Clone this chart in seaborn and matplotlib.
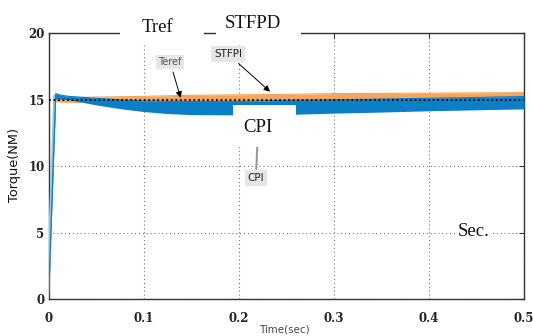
import matplotlib
matplotlib.use("Agg")
import matplotlib.pyplot as plt
import seaborn as sns
import numpy as np
import pandas as pd
from matplotlib.patches import Rectangle
from matplotlib.transforms import IdentityTransform

# ---- data ----
ref_t = [0.0, 0.5]
ref_v = [15.0, 15.0]

orange_t = [0.0, 0.0075, 0.012, 0.03, 0.05, 0.1, 0.14, 0.2, 0.26, 0.3, 0.4, 0.5]
orange_hi = [0.0, 15.25, 15.2, 15.15, 15.19, 15.24, 15.31, 15.36, 15.4, 15.45, 15.48, 15.53]
orange_lo = [0.0, 14.85, 14.8, 14.78, 14.78, 14.8, 14.83, 14.87, 14.9, 14.93, 14.97, 15.0]

blue_t = [0.0, 0.0075, 0.012, 0.02, 0.05, 0.075, 0.1, 0.125, 0.15, 0.2, 0.26, 0.3, 0.35, 0.4, 0.45, 0.5]
blue_hi = [0.0, 15.45, 15.35, 15.25, 15.1, 14.98, 14.9, 14.87, 14.86, 14.86, 14.96, 14.99, 15.04, 15.1, 15.16, 15.23]
blue_lo = [0.0, 15.05, 15.05, 15.0, 14.6, 14.32, 14.1, 13.95, 13.87, 13.85, 13.9, 13.98, 14.06, 14.16, 14.23, 14.3]

ramp_t = [0.0, 0.0075]
ramp_v = [0.0, 15.3]

xticks = [0, 0.1, 0.2, 0.3, 0.4, 0.5]
xtick_labels = ["0", "0.1", "0.2", "0.3", "0.4", "0.5"]
yticks = [0, 5, 10, 15, 20]
ytick_labels = ["0", "5", "10", "15", "20"]

# ---- figure ----
sns.set_style("white")
plt.rcParams['font.family'] = ['DejaVu Sans']

W, H = 533, 336
fig = plt.figure(figsize=(W / 100, H / 100), dpi=100)
x0, x1, ytop, ybot = 48.5, 524, 33, 299.3
ax = fig.add_axes([x0 / W, 1 - ybot / H, (x1 - x0) / W, (ybot - ytop) / H])

blue = "#0b7fc6"
orange = "#f6a65c"

ax.fill_between(orange_t, orange_lo, orange_hi, color=orange, lw=0, zorder=2)
ax.fill_between(blue_t, blue_lo, blue_hi, color=blue, lw=0, zorder=3)
sns.lineplot(x=blue_t, y=blue_hi, ax=ax, color=blue, lw=0.8, zorder=3)
sns.lineplot(x=orange_t, y=orange_hi, ax=ax, color=orange, lw=0.8, zorder=2)
sns.lineplot(x=[t - 0.001 for t in ramp_t], y=ramp_v, ax=ax, color="#8fcbeb", lw=2.0, zorder=3)
sns.lineplot(x=ramp_t, y=ramp_v, ax=ax, color=blue, lw=0.9, zorder=4)
sns.lineplot(x=ref_t, y=ref_v, ax=ax, color="black", lw=1.3, linestyle=(0, (1, 1.5)), zorder=5)

ax.set_xlim(0, 0.5)
ax.set_ylim(0, 20)
ax.set_xticks(xticks)
ax.set_xticklabels(xtick_labels)
ax.set_yticks(yticks)
ax.set_yticklabels(ytick_labels)
for lab in ax.get_xticklabels() + ax.get_yticklabels():
    lab.set_fontfamily("DejaVu Serif")
    lab.set_fontweight("bold")
    lab.set_fontsize(8.5)
    lab.set_color("#222222")
ax.tick_params(axis="both", direction="in", length=3.5, width=0.8, color="#333333",
               top=True, right=True)
ax.tick_params(axis="x", pad=9)
ax.tick_params(axis="y", pad=3)
ax.grid(True, color="#777777", linestyle=(0, (1, 2.5)), lw=0.8)
for s in ax.spines.values():
    s.set_color("#333333")
    s.set_linewidth(1.0)
    s.set_visible(True)

ax.set_xlabel("")
ax.set_ylabel("")
fig.text(284 / W, 1 - 330 / H, "Time(sec)", fontsize=7.4, color="#444444",
         ha="center", va="center")
fig.text(15 / W, 1 - 165 / H, "Torque(NM)", fontsize=9.3, color="#111111",
         rotation=90, ha="center", va="center")

# ---- small annotation boxes ----
box = dict(boxstyle="square,pad=0.25", facecolor="#e6e6e6", edgecolor="none")
ax.annotate("Teref", xy=(0.139, 15.13), xycoords="data",
            xytext=(170, H - 62), textcoords="figure pixels",
            fontsize=7, color="#555555", ha="center", va="center", bbox=box,
            arrowprops=dict(arrowstyle="-|>", color="black", lw=0.7,
                            mutation_scale=9, shrinkA=2, shrinkB=0), zorder=6)
ax.annotate("STFPI", xy=(0.233, 15.59), xycoords="data",
            xytext=(228, H - 54), textcoords="figure pixels",
            fontsize=7.5, color="#222222", ha="center", va="center", bbox=box,
            arrowprops=dict(arrowstyle="-|>", color="black", lw=0.7,
                            mutation_scale=9, shrinkA=2, shrinkB=0), zorder=6)
ax.annotate("CPI", xy=(0.2195, 11.45), xycoords="data",
            xytext=(256, H - 178), textcoords="figure pixels",
            fontsize=7.5, color="#222222", ha="center", va="center", bbox=box,
            arrowprops=dict(arrowstyle="-", color="#999999", lw=1.5,
                            shrinkA=1, shrinkB=0), zorder=6)

# ---- white label boxes covering parts of the plot ----
for (bx0, by0, bx1, by1) in [(120, 12, 204, 43), (216, 12, 301, 43),
                             (233, 105, 296, 147), (456, 221, 491, 244)]:
    fig.add_artist(Rectangle((bx0, H - by1), bx1 - bx0, by1 - by0,
                             transform=IdentityTransform(), facecolor="white",
                             edgecolor="none", zorder=1))

serif = "Liberation Serif"
for (tx, ty, s) in [(157, 27, "Tref"), (253, 24, "STFPD"), (258, 127, "CPI"), (474, 232, "Sec.")]:
    fig.text(tx / W, 1 - ty / H, s, fontsize=13.5, family=serif, color="#111111",
             ha="center", va="center", zorder=3)

fig.savefig("out.png", dpi=100)
